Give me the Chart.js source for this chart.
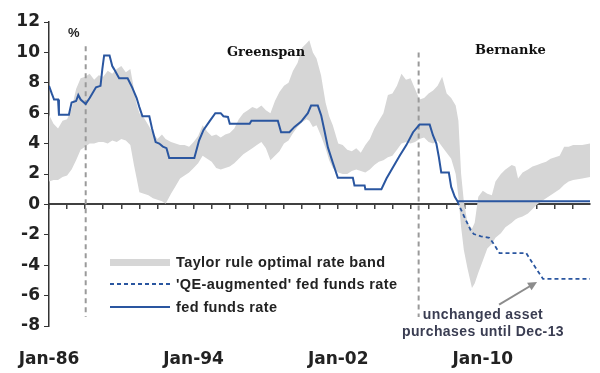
<!DOCTYPE html>
<html>
<head>
<meta charset="utf-8">
<script src="https://cdn.jsdelivr.net/npm/chart.js@4/dist/chart.umd.min.js"></script>
<style>
body{ margin:0; background:#fff; }
#quadro{ position:relative; width:600px; height:373px; }
#grafico{ position:absolute; left:0; top:0; }
.txt{
    position:absolute; white-space:nowrap; line-height:1;
    font-family:"Liberation Sans", Arial, sans-serif;
    font-weight:bold; color:#222;
}
.era{ font-family:"DejaVu Serif", serif; font-size:13px; color:#111; }
.leg{ font-size:14.5px; letter-spacing:0.4px; }
.nota{ font-size:14px; letter-spacing:0.4px; line-height:17px; color:#3a3d52; text-align:center; }
.amostra{ position:absolute; left:110px; width:60px; }
</style>
</head>
<body>
<div id="quadro">
    <canvas id="grafico" width="600" height="373"></canvas>

    <div class="txt" style="left:68px;top:26px;font-size:13px;">%</div>
    <div class="txt era" style="left:227px;top:45px;">Greenspan</div>
    <div class="txt era" style="left:475px;top:43px;">Bernanke</div>

    <div class="amostra" style="top:259px;height:7px;background:#d6d6d6;"></div>
    <div class="txt leg" style="left:176px;top:255px;">Taylor rule optimal rate band</div>
    <div class="amostra" style="top:283px;height:2px;background:repeating-linear-gradient(90deg,#2a56a0 0 4px,transparent 4px 7px);"></div>
    <div class="txt leg" style="left:176px;top:277px;">'QE-augmented' fed funds rate</div>
    <div class="amostra" style="top:306px;height:2px;background:#2a56a0;"></div>
    <div class="txt leg" style="left:176px;top:300px;">fed funds rate</div>

    <div class="txt nota" style="left:393px;top:306px;width:180px;">unchanged asset<br>purchases until Dec-13</div>
</div>

<script>
// ==========================
// DADOS
// ==========================
const rotulosX = ["Jan-86", "Jan-94", "Jan-02", "Jan-10"];
const anosRotulo = [1986, 1994, 2002, 2010];

const anosFed = [
    1986.00, 1986.15, 1986.28, 1986.50, 1986.55, 1987.10, 1987.25, 1987.50,
    1987.62, 1987.75, 1988.03, 1988.25, 1988.60, 1988.85, 1988.95, 1989.05,
    1989.35, 1989.50, 1989.60, 1989.88, 1990.35, 1990.60, 1990.85, 1991.00,
    1991.17, 1991.55, 1991.70, 1991.90, 1992.10, 1992.30, 1992.50, 1992.65,
    1994.04, 1994.30, 1994.55, 1994.87, 1995.20, 1995.50, 1995.65, 1995.90,
    1996.00, 1997.10, 1997.20, 1998.66, 1998.84, 1999.30, 1999.58, 1999.95,
    2000.32, 2000.50, 2000.87, 2001.06, 2001.24, 2001.43, 2001.70, 2001.98,
    2002.81, 2002.90, 2003.46, 2003.50, 2004.39, 2004.67, 2005.03, 2005.40,
    2005.77, 2006.14, 2006.50, 2007.06, 2007.24, 2007.43, 2007.57, 2007.70,
    2008.12, 2008.25, 2008.45, 2008.60, 2015.93
];
const taxaFed = [
    7.8, 7.3, 6.9, 6.9, 5.9, 5.9, 6.7, 6.8,
    7.2, 6.9, 6.6, 7.0, 7.7, 7.8, 8.9, 9.8,
    9.8, 9.1, 8.9, 8.3, 8.3, 7.7, 7.0, 6.4,
    5.8, 5.8, 5.0, 4.1, 4.0, 3.8, 3.7, 3.05,
    3.05, 4.2, 4.9, 5.45, 6.0, 6.0, 5.8, 5.75,
    5.3, 5.3, 5.5, 5.5, 4.75, 4.75, 5.1, 5.45,
    6.0, 6.5, 6.5, 5.85, 4.85, 3.75, 2.75, 1.75,
    1.75, 1.25, 1.25, 1.0, 1.0, 1.7, 2.45, 3.2,
    3.9, 4.75, 5.25, 5.25, 4.55, 4.0, 3.1, 2.1,
    2.1, 1.15, 0.5, 0.2, 0.2
];

const anosQE = [
    2008.60, 2008.70, 2008.95, 2009.33, 2009.50, 2009.90, 2010.36,
    2010.55, 2010.92, 2012.40, 2012.77, 2013.33, 2015.93
];
const taxaQE = [
    0.2, -0.1, -0.75, -1.7, -1.95, -2.1, -2.2,
    -2.5, -3.2, -3.2, -3.9, -4.9, -4.9
];

const anosBanda = [
    1986.00, 1986.25, 1986.50, 1986.75, 1987.00, 1987.25, 1987.50, 1987.75,
    1988.00, 1988.25, 1988.50, 1988.75, 1989.00, 1989.25, 1989.50, 1989.75,
    1990.00, 1990.25, 1990.50, 1990.70, 1990.85, 1991.00, 1991.25, 1991.50,
    1991.75, 1992.00, 1992.25, 1992.45, 1992.75, 1993.00, 1993.25, 1993.50,
    1993.75, 1994.00, 1994.25, 1994.50, 1994.75, 1995.00, 1995.25, 1995.50,
    1995.75, 1996.00, 1996.25, 1996.50, 1996.75, 1997.00, 1997.25, 1997.50,
    1997.75, 1998.00, 1998.25, 1998.50, 1998.75, 1999.00, 1999.25, 1999.50,
    1999.75, 2000.00, 2000.25, 2000.40, 2000.60, 2000.80, 2001.05, 2001.30,
    2001.50, 2001.70, 2002.00, 2002.25, 2002.50, 2002.75, 2003.00, 2003.25,
    2003.50, 2003.75, 2004.00, 2004.25, 2004.50, 2004.75, 2005.00, 2005.25,
    2005.50, 2005.75, 2006.00, 2006.25, 2006.50, 2006.75, 2007.00, 2007.25,
    2007.50, 2007.75, 2008.00, 2008.25, 2008.50, 2008.65, 2008.80, 2008.95,
    2009.15, 2009.40, 2009.55, 2009.75, 2010.00, 2010.25, 2010.50, 2010.70,
    2011.00, 2011.25, 2011.60, 2011.80, 2011.95, 2012.20, 2012.50, 2012.75,
    2013.00, 2013.25, 2013.50, 2013.75, 2014.00, 2014.25, 2014.50, 2014.75,
    2015.00, 2015.50, 2015.93
];
const bandaSuperior = [
    5.9, 5.3, 5.0, 5.5, 5.6, 6.3, 7.6, 8.3,
    8.4, 8.6, 8.2, 8.5, 8.4, 8.8, 8.6, 8.9,
    9.1, 8.7, 8.9, 7.6, 6.6, 6.0, 5.7, 5.2,
    4.7, 4.3, 4.6, 4.3, 4.1, 4.0, 3.9, 3.9,
    3.8, 4.1, 4.5, 5.2, 4.8, 4.5, 4.6, 4.4,
    4.6, 4.7, 5.0, 5.6, 6.0, 6.2, 6.4, 6.3,
    6.5, 6.2, 6.0, 6.8, 7.4, 7.8, 8.0, 8.8,
    9.3, 10.3, 10.6, 10.8, 10.0, 9.6, 8.5, 6.7,
    5.8, 5.2, 4.0, 3.9, 3.6, 3.5, 3.7, 3.4,
    3.9, 4.3, 5.0, 5.5, 6.0, 7.2, 7.3, 7.8,
    8.6, 8.2, 8.3, 7.6, 6.9, 7.0, 7.3, 7.5,
    7.8, 8.4, 7.3, 7.0, 6.5, 5.5, 2.0, 0.2,
    -1.2, -1.6, -1.2, 0.5, 0.9, 0.7, 0.6, 1.5,
    2.0, 2.3, 2.6, 2.5, 1.7, 2.1, 2.3, 2.5,
    2.6, 2.7, 2.8, 3.0, 3.1, 3.2, 3.8, 3.8,
    3.9, 3.9, 4.0
];
const bandaInferior = [
    1.5, 1.6, 1.6, 1.8, 1.9, 2.3, 2.9, 3.6,
    3.8, 4.0, 4.0, 4.1, 4.1, 4.0, 4.2, 4.1,
    4.3, 4.2, 3.9, 2.6, 1.7, 0.8, 0.7, 0.6,
    0.4, 0.3, 0.2, 0.05, 0.7, 1.2, 1.7, 1.9,
    2.1, 2.4, 2.7, 3.2, 3.0, 2.8, 2.4, 2.3,
    2.4, 2.5, 2.7, 3.0, 3.3, 3.5, 3.7, 3.9,
    4.1, 3.7, 2.9, 3.2, 3.5, 4.0, 4.2, 4.7,
    5.1, 5.4, 5.6, 5.5, 5.1, 5.2, 4.5, 3.7,
    2.9, 2.4, 2.1, 2.0, 2.0, 2.2, 2.3, 2.2,
    2.1, 2.3, 2.6, 2.8, 2.9, 3.1, 3.2, 3.6,
    4.0, 4.1, 4.0, 4.1, 4.3, 4.4, 4.1, 4.0,
    4.2, 3.8, 3.4, 3.0, 2.0, 0.5, -1.5, -3.0,
    -4.2, -5.5, -5.2, -4.5, -3.7, -2.9, -2.6, -2.2,
    -1.9, -1.5, -1.2, -1.0, -0.9, -0.8, -0.6, -0.3,
    0.0, 0.2, 0.4, 0.6, 0.8, 1.0, 1.3, 1.5,
    1.6, 1.7, 1.8
];

// inicio de mandato (Greenspan, Bernanke)
const anosMandato = [1988.03, 2006.45];
const topoMandato = [10.4, 10.0];

const ticksY = [-8, -6, -4, -2, 0, 2, 4, 6, 8, 10, 12];
const ticksAno = [];
for(let a = 1986; a <= 2015; a++) ticksAno.push(a);

const AZUL = "#2a56a0";

function pontos(xs, ys){
    return xs.map((x, i) => ({ x: x, y: ys[i] }));
}

// ==========================
// SETA DA NOTA
// ==========================
const seta = {
    id: "seta",
    afterDatasetsDraw(chart){
        const { ctx, scales } = chart;
        const x1 = scales.x.getPixelForValue(2010.9);
        const y1 = scales.y.getPixelForValue(-6.6);
        const x2 = scales.x.getPixelForValue(2013.0);
        const y2 = scales.y.getPixelForValue(-5.1);
        const ang = Math.atan2(y2 - y1, x2 - x1);
        ctx.save();
        ctx.strokeStyle = "#8c8c8c";
        ctx.fillStyle = "#8c8c8c";
        ctx.lineWidth = 2;
        ctx.beginPath();
        ctx.moveTo(x1, y1);
        ctx.lineTo(x2 - 6 * Math.cos(ang), y2 - 6 * Math.sin(ang));
        ctx.stroke();
        ctx.beginPath();
        ctx.moveTo(x2, y2);
        ctx.lineTo(x2 - 10 * Math.cos(ang - 0.45), y2 - 10 * Math.sin(ang - 0.45));
        ctx.lineTo(x2 - 10 * Math.cos(ang + 0.45), y2 - 10 * Math.sin(ang + 0.45));
        ctx.closePath();
        ctx.fill();
        ctx.restore();
    }
};

// ==========================
// GRAFICO
// ==========================
const datasets = [
    {
        label: "Taylor rule optimal rate band (topo)",
        data: pontos(anosBanda, bandaSuperior),
        borderWidth: 0,
        pointRadius: 0,
        backgroundColor: "#d6d6d6",
        fill: 1,
        order: 5
    },
    {
        label: "Taylor rule optimal rate band (base)",
        data: pontos(anosBanda, bandaInferior),
        borderWidth: 0,
        pointRadius: 0,
        fill: false,
        order: 6
    }
];

anosMandato.forEach((a, i) => {
    datasets.push({
        label: "mandato",
        data: [{ x: a, y: topoMandato[i] }, { x: a, y: -7.4 }],
        borderColor: "#9a9a9a",
        borderWidth: 2,
        borderDash: [5, 4],
        pointRadius: 0,
        fill: false,
        order: 4
    });
});

datasets.push({
    label: "'QE-augmented' fed funds rate",
    data: pontos(anosQE, taxaQE),
    borderColor: AZUL,
    borderWidth: 1.8,
    borderDash: [4, 3],
    pointRadius: 0,
    fill: false,
    order: 2
});

datasets.push({
    label: "fed funds rate",
    data: pontos(anosFed, taxaFed),
    borderColor: AZUL,
    borderWidth: 2,
    pointRadius: 0,
    fill: false,
    order: 1
});

new Chart(document.getElementById("grafico"), {
    type: "line",
    data: { datasets: datasets },
    plugins: [seta],
    options: {
        responsive: false,
        animation: false,
        devicePixelRatio: 1,
        layout: { padding: { top: 22, right: 10, bottom: 0, left: 0 } },
        plugins: {
            legend: { display: false },
            tooltip: { enabled: false }
        },
        scales: {
            x: {
                type: "linear",
                min: 1986,
                max: 2015.93,
                position: "bottom",
                border: { display: false },
                grid: { display: false },
                afterBuildTicks: s => { s.ticks = anosRotulo.map(v => ({ value: v })); },
                afterFit: s => { s.height = 47; },
                ticks: {
                    padding: 15,
                    maxRotation: 0,
                    color: "#222",
                    font: { family: "DejaVu Sans", size: 17, weight: "bold" },
                    callback: v => rotulosX[anosRotulo.indexOf(v)]
                }
            },
            eixoZero: {
                type: "linear",
                axis: "x",
                min: 1986,
                max: 2015.93,
                position: { y: 0 },
                z: 1,
                afterBuildTicks: s => { s.ticks = ticksAno.map(v => ({ value: v })); },
                afterFit: s => { s.height = 0; },
                border: { display: true, color: "#404040", width: 2 },
                grid: {
                    display: true,
                    drawOnChartArea: false,
                    drawTicks: true,
                    tickLength: 4,
                    color: "#404040",
                    lineWidth: 1.5
                },
                ticks: { display: false }
            },
            y: {
                min: -8,
                max: 12,
                afterBuildTicks: s => { s.ticks = ticksY.map(v => ({ value: v })); },
                afterFit: s => { s.width = 49; },
                border: { display: true, color: "#333", width: 1.5 },
                grid: {
                    drawOnChartArea: false,
                    drawTicks: true,
                    tickLength: 5,
                    color: "#333"
                },
                ticks: {
                    padding: 4,
                    color: "#222",
                    font: { family: "DejaVu Sans", size: 17, weight: "bold" }
                }
            }
        }
    }
});
</script>
</body>
</html>
